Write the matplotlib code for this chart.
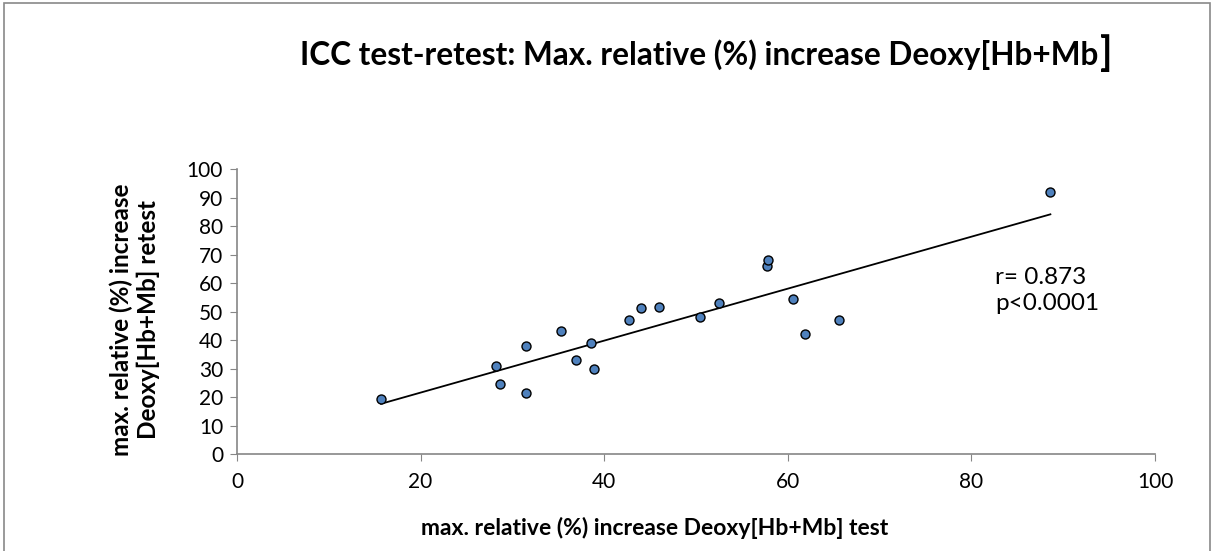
import numpy as np
import matplotlib
matplotlib.use('Agg')
import matplotlib.pyplot as plt
from matplotlib.patches import Rectangle

# Test vs retest values
test_vals = [15.7, 28.2, 28.7, 31.5, 31.5, 35.3, 36.9, 38.6, 38.9, 42.7,
             44.0, 46.0, 50.4, 52.5, 57.7, 57.8, 60.6, 61.9, 65.6, 88.6]
retest_vals = [19.2, 30.8, 24.5, 38.0, 21.4, 43.3, 32.9, 39.1, 29.7, 46.9,
               51.2, 51.6, 48.0, 52.9, 66.0, 68.2, 54.5, 42.2, 47.0, 91.9]

title = 'ICC test-retest: Max. relative (%) increase Deoxy[Hb+Mb'
xlabel = 'max. relative (%) increase Deoxy[Hb+Mb] test'
ylabel = 'max. relative (%) increase\nDeoxy[Hb+Mb] retest'
stats_text = 'r= 0.873\np<0.0001'

plt.rcParams['font.family'] = ['Lato', 'DejaVu Sans']

fig = plt.figure(figsize=(12.12, 5.51), dpi=100)
ax = fig.add_axes([0.1955, 0.176, 0.7575, 0.517])

# Outer chart border, like the spreadsheet chart frame
fig.patches.append(Rectangle((0.003, -0.01), 0.995, 1.005, transform=fig.transFigure,
                             fill=False, edgecolor='#898989', linewidth=1.2))

x = np.array(test_vals)
y = np.array(retest_vals)

# Linear trend line over the data range
slope, intercept = np.polyfit(x, y, 1)
xs = np.array([x.min(), x.max()])
ax.plot(xs, slope * xs + intercept, color='black', linewidth=1.3, zorder=2)

ax.scatter(x, y, s=42, color='#4F81BD', edgecolor='black', linewidth=1.0, zorder=3)

ax.set_xlim(0, 100)
ax.set_ylim(0, 100)
ax.set_xticks(range(0, 101, 20))
ax.set_yticks(range(0, 101, 10))
ax.tick_params(labelsize=15, length=5, color='#868686', direction='out')
ax.tick_params(axis='x', pad=8)
ax.tick_params(axis='y', pad=5)
for side in ['top', 'right']:
    ax.spines[side].set_visible(False)
for side in ['left', 'bottom']:
    ax.spines[side].set_color('#868686')
    ax.spines[side].set_linewidth(1.2)

ax.text(82.6, 57.5, stats_text, fontsize=17.5, ha='left', va='center', linespacing=1.3)

t = fig.text(0.2475, 0.9, title, fontsize=22.7, fontweight='bold', ha='left', va='center')
# the closing bracket is drawn bigger in the original chart
ax.annotate(']', xy=(1, 0.5), xycoords=t, xytext=(1, 1), textcoords='offset points',
            fontsize=29, fontweight='bold', ha='left', va='center', annotation_clip=False)

fig.text(0.54, 0.042, xlabel, fontsize=16.5, fontweight='bold', ha='center', va='center')
fig.text(0.111, 0.42, ylabel, fontsize=17.5, fontweight='bold', ha='center', va='center',
         rotation=90, linespacing=1.2)

fig.savefig('out.png', dpi=100)
